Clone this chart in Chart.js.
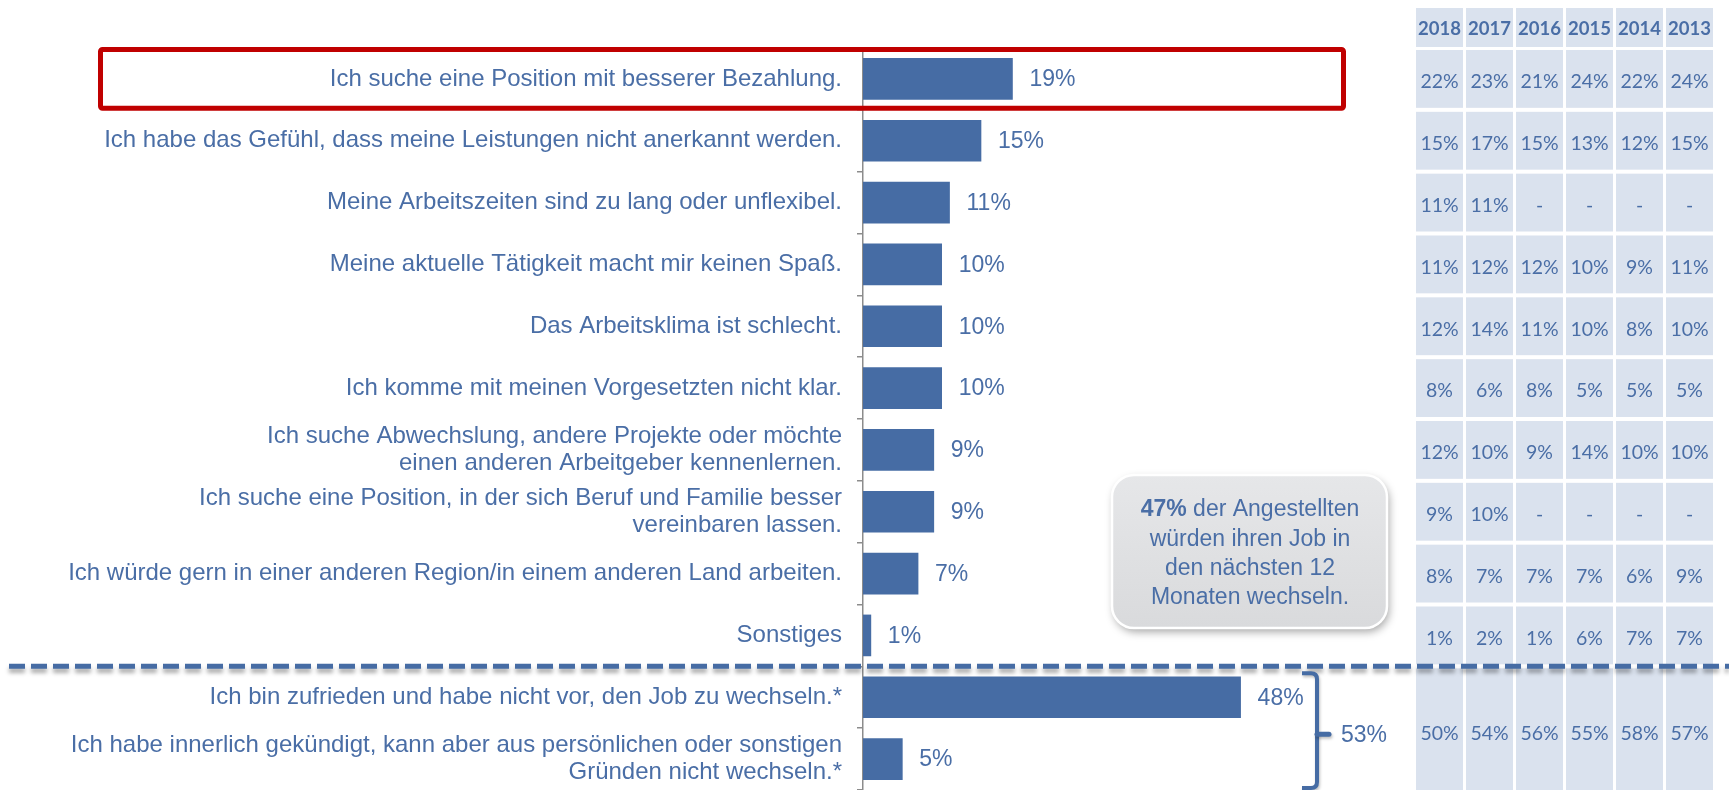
<!DOCTYPE html>
<html lang="de">
<head>
<meta charset="utf-8">
<title>Gründe für einen Jobwechsel</title>
<script src="https://cdn.jsdelivr.net/npm/chart.js@4.4.1/dist/chart.umd.min.js"></script>
<style>
  html, body { margin: 0; padding: 0; background: #fff; }
  #chart { display: block; }
</style>
</head>
<body>
<canvas id="chart" width="1729" height="790"></canvas>
<script>
// categories (multi-line ones as arrays)
const categories = [
    'Ich suche eine Position mit besserer Bezahlung.',
    'Ich habe das Gefühl, dass meine Leistungen nicht anerkannt werden.',
    'Meine Arbeitszeiten sind zu lang oder unflexibel.',
    'Meine aktuelle Tätigkeit macht mir keinen Spaß.',
    'Das Arbeitsklima ist schlecht.',
    'Ich komme mit meinen Vorgesetzten nicht klar.',
    ['Ich suche Abwechslung, andere Projekte oder möchte', 'einen anderen Arbeitgeber kennenlernen.'],
    ['Ich suche eine Position, in der sich Beruf und Familie besser', 'vereinbaren lassen.'],
    'Ich würde gern in einer anderen Region/in einem anderen Land arbeiten.',
    'Sonstiges',
    'Ich bin zufrieden und habe nicht vor, den Job zu wechseln.*',
    ['Ich habe innerlich gekündigt, kann aber aus persönlichen oder sonstigen', 'Gründen nicht wechseln.*']
];

// current survey (%)
const current = [19, 15, 11, 10, 10, 10, 9, 9, 7, 1, 48, 5];

// previous years (null = not asked); last entry = both "stay" answers combined
const years = ['2018', '2017', '2016', '2015', '2014', '2013'];
const y2018 = [22, 15, 11, 11, 12, 8, 12, 9, 8, 1, 50];
const y2017 = [23, 17, 11, 12, 14, 6, 10, 10, 7, 2, 54];
const y2016 = [21, 15, null, 12, 11, 8, 9, null, 7, 1, 56];
const y2015 = [24, 13, null, 10, 10, 5, 14, null, 7, 6, 55];
const y2014 = [22, 12, null, 9, 8, 5, 10, null, 6, 7, 58];
const y2013 = [24, 15, null, 11, 10, 5, 10, null, 9, 7, 57];
const history = [y2018, y2017, y2016, y2015, y2014, y2013];

const switchShare = 47;   // callout
const stayShare = 53;     // bracket total

const BLUE = '#4a6ea6';
const BAR = '#466ca4';
const CELL = '#dae2ee';
const FONT = '"Liberation Sans", Arial, sans-serif';
const TABLE_FONT = 'Lato, "Open Sans", sans-serif';

function roundRect(ctx, x, y, w, h, r) {
    ctx.beginPath();
    ctx.moveTo(x + r, y);
    ctx.arcTo(x + w, y, x + w, y + h, r);
    ctx.arcTo(x + w, y + h, x, y + h, r);
    ctx.arcTo(x, y + h, x, y, r);
    ctx.arcTo(x, y, x + w, y, r);
    ctx.closePath();
}

function drawTable(ctx, yScale, step) {
    const left = 1416, pitch = 50, w = 47;
    ctx.textAlign = 'center';
    ctx.textBaseline = 'middle';

    years.forEach(function(yr, j) {
        ctx.fillStyle = CELL;
        ctx.fillRect(left + j * pitch, 8, w, 39);
        ctx.fillStyle = BLUE;
        ctx.font = 'bold 18.5px ' + TABLE_FONT;
        ctx.fillText(yr, left + j * pitch + w / 2, 29);
    });

    history.forEach(function(col, j) {
        col.forEach(function(v, i) {
            let top = yScale.getPixelForValue(i) - step / 2 + 2;
            let h = step - 4;
            let ty = yScale.getPixelForValue(i) + 3;
            if (i === col.length - 1) {
                // merged cell for the last two answers
                h = 800 - top;
                ty = yScale.getPixelForValue(i + 0.5) + 6;
            }
            ctx.fillStyle = CELL;
            ctx.fillRect(left + j * pitch, top, w, h);
            ctx.fillStyle = BLUE;
            ctx.font = '19.5px ' + TABLE_FONT;
            ctx.fillText(v === null ? '-' : v + '%', left + j * pitch + w / 2, ty);
        });
    });
}

const annotations = {
    id: 'annotations',
    afterDraw(chart) {
        const ctx = chart.ctx;
        const yScale = chart.scales.y;
        const step = yScale.getPixelForValue(1) - yScale.getPixelForValue(0);
        const meta = chart.getDatasetMeta(0);

        ctx.save();
        drawTable(ctx, yScale, step);

        // value labels
        ctx.font = '23px ' + FONT;
        ctx.fillStyle = BLUE;
        ctx.textAlign = 'left';
        ctx.textBaseline = 'middle';
        meta.data.forEach(function(bar, i) {
            ctx.fillText(current[i] + '%', bar.x + 17, bar.y + 1);
        });

        // red highlight around first answer
        ctx.strokeStyle = '#c00000';
        ctx.lineWidth = 5;
        const rTop = yScale.getPixelForValue(-0.5) + 1.5;
        const rBot = yScale.getPixelForValue(0.5) - 1.5;
        roundRect(ctx, 100.5, rTop, 1243, rBot - rTop, 2);
        ctx.stroke();

        // callout
        ctx.save();
        ctx.shadowColor = 'rgba(0,0,0,0.35)';
        ctx.shadowBlur = 8;
        ctx.shadowOffsetX = 2;
        ctx.shadowOffsetY = 4;
        const g = ctx.createLinearGradient(0, 475, 0, 628);
        g.addColorStop(0, '#e6e7e9');
        g.addColorStop(1, '#d9dadc');
        ctx.fillStyle = g;
        roundRect(ctx, 1112, 475, 275, 153, 22);
        ctx.fill();
        ctx.restore();
        ctx.strokeStyle = '#ffffff';
        ctx.lineWidth = 2.5;
        roundRect(ctx, 1112, 475, 275, 153, 22);
        ctx.stroke();

        ctx.fillStyle = BLUE;
        ctx.textBaseline = 'middle';
        const cx = 1250;
        ctx.font = 'bold 23px ' + FONT;
        const boldPart = switchShare + '%';
        const restPart = ' der Angestellten';
        const bw = ctx.measureText(boldPart).width;
        ctx.font = '23px ' + FONT;
        const rw = ctx.measureText(restPart).width;
        const sx = cx - (bw + rw) / 2;
        ctx.textAlign = 'left';
        ctx.font = 'bold 23px ' + FONT;
        ctx.fillText(boldPart, sx, 510);
        ctx.font = '23px ' + FONT;
        ctx.fillText(restPart, sx + bw, 510);
        ctx.textAlign = 'center';
        ['würden ihren Job in', 'den nächsten 12', 'Monaten wechseln.'].forEach(function(line, k) {
            ctx.fillText(line, cx, 539.5 + k * 29.3);
        });

        // dashed separator
        const sepY = yScale.getPixelForValue(9.5);
        ctx.save();
        ctx.shadowColor = 'rgba(0,0,0,0.35)';
        ctx.shadowBlur = 4;
        ctx.shadowOffsetY = 4;
        ctx.strokeStyle = BAR;
        ctx.lineWidth = 5;
        ctx.setLineDash([16, 6]);
        ctx.beginPath();
        ctx.moveTo(9, sepY);
        ctx.lineTo(1729, sepY);
        ctx.stroke();
        ctx.restore();

        // bracket for the two "stay" answers
        const bTop = sepY + 7, bBot = 788, bx = 1317;
        const bMid = yScale.getPixelForValue(10.5) + 6;
        ctx.save();
        ctx.shadowColor = 'rgba(0,0,0,0.25)';
        ctx.shadowBlur = 3;
        ctx.shadowOffsetX = 1;
        ctx.shadowOffsetY = 2;
        ctx.strokeStyle = BAR;
        ctx.lineWidth = 4;
        ctx.beginPath();
        ctx.moveTo(1302, bTop);
        ctx.lineTo(bx - 6, bTop);
        ctx.quadraticCurveTo(bx, bTop, bx, bTop + 6);
        ctx.lineTo(bx, bBot - 6);
        ctx.quadraticCurveTo(bx, bBot, bx - 6, bBot);
        ctx.lineTo(1302, bBot);
        ctx.stroke();
        ctx.lineWidth = 5;
        ctx.lineCap = 'round';
        ctx.beginPath();
        ctx.moveTo(bx, bMid);
        ctx.lineTo(1329, bMid);
        ctx.stroke();
        ctx.restore();

        ctx.fillStyle = BLUE;
        ctx.font = '23px ' + FONT;
        ctx.textAlign = 'left';
        ctx.fillText(stayShare + '%', 1341, bMid + 1);

        ctx.restore();
    }
};

new Chart(document.getElementById('chart'), {
    type: 'bar',
    data: {
        labels: categories,
        datasets: [{
            data: current,
            backgroundColor: BAR,
            borderWidth: 0,
            barThickness: 41
        }]
    },
    options: {
        indexAxis: 'y',
        responsive: false,
        animation: false,
        events: [],
        layout: { padding: { top: 48, bottom: 0, left: 0, right: 394 } },
        plugins: {
            legend: { display: false },
            tooltip: { enabled: false }
        },
        scales: {
            x: { display: false, min: 0, max: 60 },
            y: {
                border: { color: '#8c8c8c', width: 1.5 },
                grid: { drawOnChartArea: false, drawTicks: true, tickLength: 6, color: '#8c8c8c', lineWidth: 1.5 },
                ticks: {
                    color: BLUE,
                    padding: 15,
                    autoSkip: false,
                    font: { family: FONT, size: 24, lineHeight: 1.13 }
                },
                afterFit: function(s) {
                    s.width = 863;
                    s.paddingTop = 0;
                    s.paddingBottom = 0;
                }
            }
        }
    },
    plugins: [annotations]
});
</script>
</body>
</html>
